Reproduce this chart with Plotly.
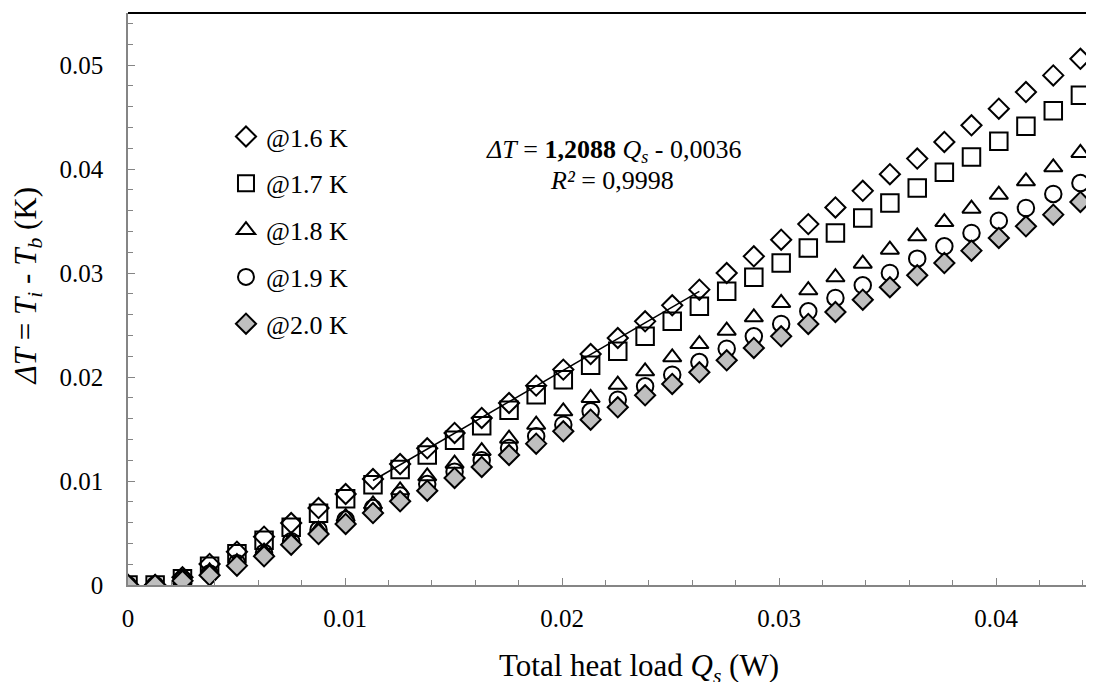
import plotly.graph_objects as go

# Heat load Q_s (W)
q_s = [0, 0.00125, 0.00251, 0.00376, 0.00502, 0.00627, 0.00752, 0.00878, 0.01003,
       0.01129, 0.01254, 0.01379, 0.01505, 0.0163, 0.01756, 0.01881, 0.02006, 0.02132,
       0.02257, 0.02383, 0.02508, 0.02633, 0.02759, 0.02884, 0.0301, 0.03135, 0.0326,
       0.03386, 0.03511, 0.03637, 0.03762, 0.03887, 0.04013, 0.04138, 0.04264, 0.04389]

dt_16 = [0, 0, 0.00074, 0.00202, 0.0032, 0.00465, 0.00596, 0.0074, 0.00875, 0.01019,
         0.01163, 0.01314, 0.01462, 0.01606, 0.0175, 0.01917, 0.02071, 0.02221, 0.02375,
         0.02535, 0.02689, 0.0284, 0.0300, 0.0316, 0.0332, 0.0347, 0.0363, 0.0379, 0.0395,
         0.0410, 0.0426, 0.0442, 0.0458, 0.0474, 0.0490, 0.0506]

dt_17 = [0, 0, 0.0006, 0.0018, 0.0030, 0.0043, 0.00555, 0.0069, 0.0083, 0.00965,
         0.0111, 0.0125, 0.01391, 0.01532, 0.01681, 0.0183, 0.01974, 0.02113, 0.02247,
         0.02391, 0.02535, 0.0268, 0.02824, 0.02959, 0.03096, 0.0324, 0.03385, 0.03529,
         0.03673, 0.03817, 0.03968, 0.04115, 0.04266, 0.0441, 0.04561, 0.04709]

dt_18 = [0, 0, 0.0005, 0.0013, 0.0022, 0.0032, 0.0043, 0.00532, 0.00654, 0.00776,
         0.0091, 0.01045, 0.01167, 0.01288, 0.01407, 0.01541, 0.0167, 0.01798, 0.01926,
         0.02055, 0.02189, 0.02317, 0.02445, 0.02574, 0.02712, 0.02834, 0.02959, 0.0309,
         0.03224, 0.03353, 0.0349, 0.03618, 0.03753, 0.03882, 0.04016, 0.04154]

dt_19 = [0, 0, 0.0005, 0.0011, 0.0021, 0.0031, 0.0042, 0.0053, 0.0063, 0.0074,
         0.0086, 0.0097, 0.0109, 0.0120, 0.01317, 0.0143, 0.01541, 0.0167, 0.01782,
         0.0191, 0.02022, 0.02144, 0.02272, 0.02391, 0.0251, 0.02632, 0.0276, 0.02882,
         0.0300, 0.03138, 0.03257, 0.03385, 0.03503, 0.03625, 0.0376, 0.03865]

dt_20 = [0, 0, 0.0004, 0.00093, 0.00186, 0.00276, 0.00388, 0.0049, 0.00587, 0.00692,
         0.00805, 0.00907, 0.01029, 0.01135, 0.0125, 0.01359, 0.01478, 0.0159, 0.01709,
         0.01824, 0.01933, 0.02045, 0.02161, 0.02279, 0.02391, 0.0251, 0.02625, 0.02743,
         0.02863, 0.02978, 0.03096, 0.03215, 0.03337, 0.03449, 0.03561, 0.03683]

series_names = ["@1.6 K", "@1.7 K", "@1.8 K", "@1.9 K", "@2.0 K"]

# Linear trendline for the 1.6 K series
fit_slope = 1.2088
fit_intercept = -0.0036
fit_q = [0.01129, 0.02633]
fit_dt = [fit_slope * q + fit_intercept for q in fit_q]

FONT = "Liberation Serif, Times New Roman, serif"
AXIS_GRAY = "#858585"

fig = go.Figure()

styles = [
    (dt_16, "diamond-open", 15.5, "black"),
    (dt_17, "square-open", 17.5, "black"),
    (dt_18, "triangle-up-open", 16, "black"),
    (dt_19, "circle-open", 16.5, "black"),
]
for i, (vals, sym, size, col) in enumerate(styles):
    fig.add_trace(go.Scatter(
        x=q_s, y=vals, mode="markers", name=series_names[i],
        legendgroup=f"g{i}",
        marker=dict(symbol=sym, size=size, color=col, line=dict(width=2, color=col)),
    ))
    if i == 0:
        fig.add_trace(go.Scatter(
            x=fit_q, y=fit_dt, mode="lines", showlegend=False,
            line=dict(color="black", width=1.5), hoverinfo="skip",
        ))

fig.add_trace(go.Scatter(
    x=q_s, y=dt_20, mode="markers", name=series_names[4], legendgroup="g4",
    marker=dict(symbol="diamond", size=15.5, color="#bfbfbf",
                line=dict(width=2, color="black")),
))

fig.update_layout(
    width=1094, height=682,
    margin=dict(l=120, r=0, t=5, b=105),
    paper_bgcolor="white", plot_bgcolor="white",
    font=dict(family=FONT, size=25, color="black"),
    showlegend=True,
    legend=dict(
        x=0.1006, y=0.825, xanchor="left", yanchor="top",
        bgcolor="rgba(0,0,0,0)", borderwidth=0,
        font=dict(family=FONT, size=26, color="black"),
        tracegroupgap=10, traceorder="grouped",
    ),
    xaxis=dict(
        range=[0, 0.044885], showgrid=False, zeroline=False,
        showline=True, linecolor=AXIS_GRAY, linewidth=1.5,
        ticks="inside", ticklen=7, tickcolor=AXIS_GRAY, tickwidth=1.2,
        tickmode="linear", dtick=0.01, tick0=0,
        tickfont=dict(family=FONT, size=25, color="black"),
        ticklabelstandoff=10,
        minor=dict(dtick=0.002, ticks="inside", ticklen=5, tickcolor=AXIS_GRAY, tickwidth=1.2),
    ),
    yaxis=dict(
        range=[0, 0.055], showgrid=False, zeroline=False,
        showline=True, linecolor=AXIS_GRAY, linewidth=1.5,
        ticks="inside", ticklen=7, tickcolor=AXIS_GRAY, tickwidth=1.2,
        tickmode="linear", dtick=0.01, tick0=0,
        tickfont=dict(family=FONT, size=25, color="black"),
        ticklabelstandoff=18,
        minor=dict(dtick=0.002, ticks="inside", ticklen=5, tickcolor=AXIS_GRAY, tickwidth=1.2),
    ),
    shapes=[dict(type="line", xref="paper", yref="paper", x0=0, x1=1, y0=1, y1=1,
                 line=dict(color="black", width=2))],
    annotations=[
        dict(text="<i>ΔT</i> = <b>1,2088</b> <i>Q<sub>s</sub></i> - 0,0036",
             xref="paper", yref="paper", x=0.498, y=0.7587, showarrow=False,
             xanchor="center", yanchor="middle", font=dict(family=FONT, size=26)),
        dict(text="<i>R²</i> = 0,9998",
             xref="paper", yref="paper", x=0.4974, y=0.7063, showarrow=False,
             xanchor="center", yanchor="middle", font=dict(family=FONT, size=26)),
        dict(text="Total heat load <i>Q<sub>s</sub></i> (W)",
             xref="paper", yref="paper", x=0.5246, y=-0.145, showarrow=False,
             xanchor="center", yanchor="middle", font=dict(family=FONT, size=31)),
        dict(text="<i>ΔT</i> = <i>T<sub>i</sub></i> - <i>T<sub>b</sub></i> (K)",
             xref="paper", yref="paper", x=-0.1027, y=0.522, showarrow=False,
             textangle=-90, xanchor="center", yanchor="middle",
             font=dict(family=FONT, size=31)),
    ],
)

fig.write_html("out.html")
